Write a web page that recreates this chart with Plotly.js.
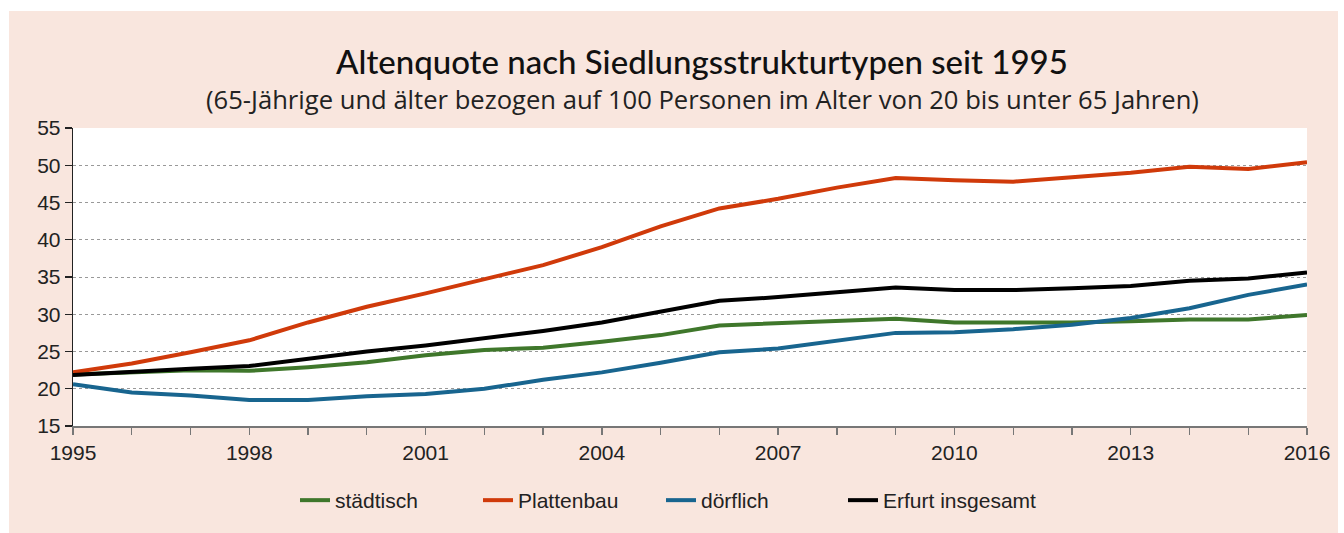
<!DOCTYPE html>
<html>
<head>
<meta charset="utf-8">
<script src="https://cdn.plot.ly/plotly-3.0.1.min.js"></script>
<style>
  html, body { margin: 0; padding: 0; background: #ffffff; width: 1344px; height: 533px; overflow: hidden; }
  #chart { position: absolute; left: 9px; top: 11px; width: 1329px; height: 522px; }
</style>
</head>
<body>
<div id="chart"></div>
<script>
const years = [1995,1996,1997,1998,1999,2000,2001,2002,2003,2004,2005,2006,2007,2008,2009,2010,2011,2012,2013,2014,2015,2016];
const staedtisch = [21.9,22.2,22.5,22.4,22.9,23.55,24.5,25.2,25.5,26.3,27.2,28.5,28.8,29.05,29.4,28.9,28.9,28.9,29.05,29.3,29.3,29.9];
const plattenbau = [22.2,23.4,24.9,26.5,28.9,31.0,32.8,34.7,36.6,39.0,41.8,44.2,45.5,47.0,48.3,48.0,47.8,48.4,49.0,49.8,49.5,50.4];
const doerflich = [20.6,19.5,19.1,18.5,18.5,19.0,19.3,20.0,21.2,22.2,23.5,24.9,25.4,26.4,27.5,27.6,28.0,28.6,29.5,30.8,32.6,34.0];
const erfurt = [21.85,22.3,22.7,23.05,24.0,25.0,25.8,26.8,27.75,28.9,30.3,31.8,32.3,32.9,33.6,33.25,33.25,33.5,33.8,34.5,34.8,35.6];
const seriesNames = ['städtisch','Plattenbau','dörflich','Erfurt insgesamt'];
const seriesColors = ['#3f772b','#d03a0a','#18658f','#000000'];
const seriesData = [staedtisch, plattenbau, doerflich, erfurt];
const seriesLegend = ['legend','legend','legend','legend2'];
const xTickLabels = ['1995','1998','2001','2004','2007','2010','2013','2016'];
const titleText = 'Altenquote nach Siedlungsstrukturtypen seit 1995';
const subtitleText = '(65-Jährige und älter bezogen auf 100 Personen im Alter von 20 bis unter 65 Jahren)';

const tickFont = '"Liberation Sans Narrow", "Liberation Sans", Arial, sans-serif';

const traces = seriesData.map((vals, i) => ({
  type: 'scatter', mode: 'lines', x: years, y: vals, name: seriesNames[i],
  legend: seriesLegend[i],
  line: { color: seriesColors[i], width: 4 }, hoverinfo: 'skip'
}));

const legendCommon = {
  orientation: 'h', xanchor: 'left', y: -0.25, yanchor: 'middle',
  bgcolor: 'rgba(0,0,0,0)',
  font: { family: tickFont, size: 21, color: '#222222' },
  traceorder: 'normal'
};

const layout = {
  width: 1329, height: 522,
  paper_bgcolor: '#f9e6de', plot_bgcolor: '#ffffff',
  margin: { l: 64, r: 31, t: 117, b: 107 },
  showlegend: true,
  title: {
    text: titleText,
    font: { family: 'Lato, "Open Sans", sans-serif', size: 33, color: '#111111', weight: 500 },
    x: (702 - 9) / 1329, xanchor: 'center', xref: 'container',
    y: 1 - 51/522, yanchor: 'middle', yref: 'container'
  },
  annotations: [{
    text: subtitleText, xref: 'paper', yref: 'paper',
    x: (702 - 73) / 1234, y: 1 + 29/298, xanchor: 'center', yanchor: 'middle',
    showarrow: false,
    font: { family: '"Open Sans", sans-serif', size: 25.6, color: '#222222' }
  }],
  xaxis: {
    range: [1995, 2016], tickmode: 'array',
    tickvals: xTickLabels.map(Number), ticktext: xTickLabels,
    ticks: 'outside', ticklen: 7, tickcolor: '#777777', tickwidth: 1.3,
    showline: true, linecolor: '#777777', linewidth: 1.5,
    showgrid: false, zeroline: false,
    minor: { tickmode: 'linear', dtick: 1, tick0: 1995, ticks: 'outside', ticklen: 7, tickcolor: '#777777', tickwidth: 1.3, showgrid: false },
    tickfont: { family: tickFont, size: 21, color: '#222222' },
    fixedrange: true
  },
  yaxis: {
    range: [15, 55], dtick: 5, tick0: 15,
    ticks: 'outside', ticklen: 7, tickcolor: '#222222', tickwidth: 1.3,
    showline: true, linecolor: '#222222', linewidth: 1.3,
    showgrid: true, gridcolor: '#999999', griddash: 'dot', gridwidth: 1,
    zeroline: false,
    tickfont: { family: tickFont, size: 21, color: '#222222' },
    fixedrange: true
  },
  legend: Object.assign({}, legendCommon, {
    x: (295 - 73) / 1234, entrywidth: 138, entrywidthmode: 'pixels'
  }),
  legend2: Object.assign({}, legendCommon, {
    x: (843 - 73) / 1234
  })
};

Plotly.newPlot('chart', traces, layout, { displayModeBar: false, staticPlot: true });
</script>
</body>
</html>
